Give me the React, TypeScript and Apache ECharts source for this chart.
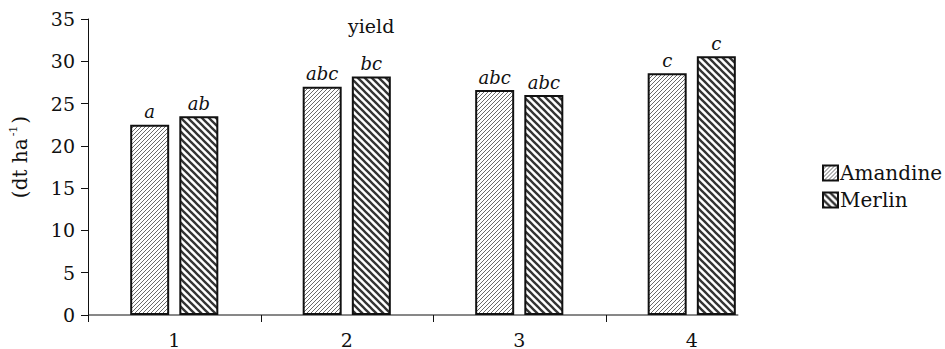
import React, { useEffect, useRef } from 'react';
import * as echarts from 'echarts';

const categories = ['1', '2', '3', '4'];
const seriesNames = ['Amandine', 'Merlin'];
const amandine = [22.5, 27.0, 26.6, 28.6];
const merlin = [23.5, 28.2, 26.0, 30.6];
const amandineLetters = ['a', 'abc', 'abc', 'c'];
const merlinLetters = ['ab', 'bc', 'abc', 'c'];
const yMin = 0;
const yMax = 35;
const yStep = 5;

const FONT = 'DejaVu Serif';

function hatch(size: number, dir: string, lineWidth: number, color: string) {
  const c = document.createElement('canvas');
  c.width = size;
  c.height = size;
  const ctx = c.getContext('2d')!;
  ctx.fillStyle = '#ffffff';
  ctx.fillRect(0, 0, size, size);
  ctx.strokeStyle = color;
  ctx.lineWidth = lineWidth;
  for (let k = -1; k <= 1; k++) {
    ctx.beginPath();
    if (dir === '/') {
      ctx.moveTo(-1, size + k * size + 1);
      ctx.lineTo(size + 1, k * size - 1);
    } else {
      ctx.moveTo(-1, k * size - 1);
      ctx.lineTo(size + 1, size + k * size + 1);
    }
    ctx.stroke();
  }
  return c;
}

export default function App() {
  const ref = useRef<HTMLDivElement>(null);
  useEffect(() => {
    if (!ref.current) return;
    const chart = echarts.init(ref.current, null, { renderer: 'svg' });
    const patA = { image: hatch(4, '/', 1, '#6a6a6a'), repeat: 'repeat' };
    const patM = { image: hatch(7, '\\', 2.3, '#333333'), repeat: 'repeat' };
    const labelStyle = {
      show: true,
      position: 'top',
      distance: 4,
      fontFamily: FONT,
      fontStyle: 'italic',
      fontSize: 18,
      color: '#111',
    };
    chart.setOption({
      animation: false,
      backgroundColor: '#ffffff',
      textStyle: { fontFamily: FONT },
      title: {
        text: 'yield',
        left: 343,
        top: 11,
        textStyle: { fontFamily: FONT, fontWeight: 'normal', fontSize: 19, color: '#111' },
      },
      legend: {
        orient: 'vertical',
        left: 817,
        top: 158,
        itemWidth: 15,
        itemHeight: 15,
        itemGap: 7,
        icon: 'rect',
        textStyle: { fontFamily: FONT, fontSize: 20, color: '#111', padding: [0, 0, 0, -3] },
        data: seriesNames,
      },
      grid: { left: 84, right: 167, top: 19, bottom: 33, containLabel: false },
      xAxis: {
        type: 'category',
        data: categories,
        axisLine: { show: false },
        axisTick: { show: false },
        axisLabel: { margin: 15, fontFamily: FONT, fontSize: 19, color: '#111' },
      },
      yAxis: {
        type: 'value',
        min: yMin,
        max: yMax,
        interval: yStep,
        name: '{n|(dt ha}{s|-1}{n|)}',
        nameLocation: 'middle',
        nameRotate: 90,
        nameGap: 56,
        nameTextStyle: {
          padding: [0, 0, 0, 20],
          rich: {
            n: { fontFamily: FONT, fontSize: 20, color: '#111', lineHeight: 24 },
            s: { fontFamily: FONT, fontSize: 11, color: '#111', verticalAlign: 'top', lineHeight: 24, padding: [0, 2, 0, 2] },
          },
        },
        splitLine: { show: false },
        axisLine: { show: true, lineStyle: { color: '#111', width: 1 } },
        axisTick: { show: true, length: 7, lineStyle: { color: '#111', width: 1 } },
        axisLabel: { margin: 13, fontFamily: FONT, fontSize: 19, color: '#111' },
      },
      series: [
        {
          name: seriesNames[0],
          type: 'bar',
          data: amandine,
          barWidth: 39,
          barGap: '26%',
          itemStyle: { color: patA, borderColor: '#111', borderWidth: 2 },
          label: { ...labelStyle, formatter: (p: any) => amandineLetters[p.dataIndex] },
        },
        {
          name: seriesNames[1],
          type: 'bar',
          data: merlin,
          barWidth: 39,
          barGap: '26%',
          itemStyle: { color: patM, borderColor: '#111', borderWidth: 2 },
          label: { ...labelStyle, formatter: (p: any) => merlinLetters[p.dataIndex] },
        },
      ],
    });

    // x-axis line and boundary ticks derived from the chart's own scales
    const c0 = chart.convertToPixel({ xAxisIndex: 0 }, categories[0]) as number;
    const c1 = chart.convertToPixel({ xAxisIndex: 0 }, categories[1]) as number;
    const band = c1 - c0;
    const start = c0 - band / 2;
    const last = chart.convertToPixel({ xAxisIndex: 0 }, categories[categories.length - 1]) as number;
    const end = last + band * 0.27;
    const y0 = chart.convertToPixel({ yAxisIndex: 0 }, 0) as number;
    const graphics: any[] = [
      { type: 'line', shape: { x1: start, y1: y0, x2: end, y2: y0 }, style: { stroke: '#111', lineWidth: 1 }, z: 10 },
    ];
    categories.forEach((_, i) => {
      const x = Math.round(start + i * band) + 0.5;
      graphics.push({ type: 'line', shape: { x1: x, y1: y0, x2: x, y2: y0 + 7 }, style: { stroke: '#111', lineWidth: 1 }, z: 10 });
    });
    chart.setOption({ graphic: graphics });

    return () => chart.dispose();
  }, []);
  return <div ref={ref} style={{ position: 'absolute', left: 0, top: 0, width: 945, height: 349 }} />;
}
